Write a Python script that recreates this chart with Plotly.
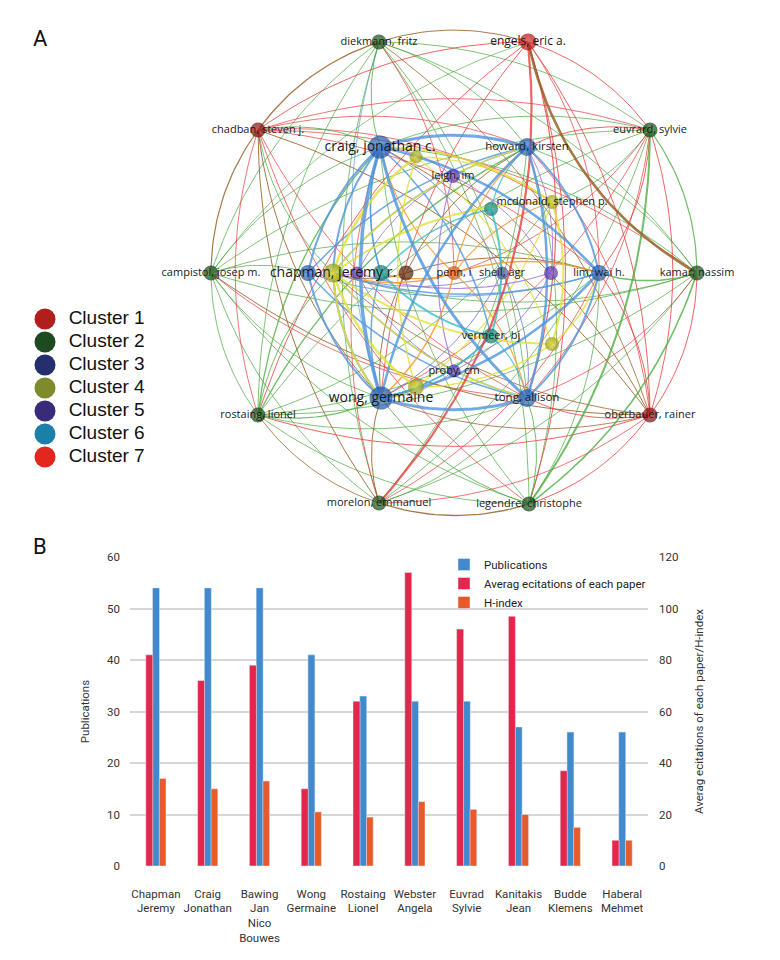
import math
from collections import defaultdict
import plotly.graph_objects as go

# ---------------- Panel B data ----------------
authors = ["Chapman<br>Jeremy", "Craig<br>Jonathan", "Bawing<br>Jan<br>Nico<br>Bouwes",
           "Wong<br>Germaine", "Rostaing<br>Lionel", "Webster<br>Angela", "Euvrad<br>Sylvie",
           "Kanitakis<br>Jean", "Budde<br>Klemens", "Haberal<br>Mehmet"]
publications = [54, 54, 54, 41, 33, 32, 32, 27, 26, 26]
avg_citations = [82, 72, 78, 30, 64, 114, 92, 97, 37, 10]
h_index = [34, 30, 33, 21, 19, 25, 22, 20, 15, 10]

# ---------------- Panel A data ----------------
node_names = ["diekmann, fritz", "engels, eric a.", "euvrard, sylvie", "kamar, nassim",
              "oberbauer, rainer", "legendre, christophe", "morelon, emmanuel", "rostaing, lionel",
              "campistol, josep m.", "chadban, steven j.", "craig, jonathan c.", "howard, kirsten",
              "lim, wai h.", "tong, allison", "wong, germaine", "", "", "mcdonald, stephen p.",
              "", "", "chapman, jeremy r.", "leigh, im", "", "proby, cm", "", "", "vermeer, bj",
              "", "", "sheil, agr", "penn, i"]
node_x = [-75, 74, 196, 243, 196, 75, -75, -196, -243, -196, -74, 73, 145, 73, -73, -146,
          -38, 98, 98, -38, -121, -1, 97, 0, -97, 37, 37, -73, -48, 48, 0]
node_y = [231, 231, 143, 0, -142, -231, -230, -142, 0, 143, 126, 126, 0, -125, -125, 0,
          116, 71, -71, -114, 0, 97, 0, -98, 0, 64, -63, 0, 0, 0, 0]
node_group = ["g", "r7", "g", "g", "r1", "g", "g", "g", "g", "r1", "b", "b", "b", "b", "b", "b",
              "y", "y", "y", "y", "y", "p", "p", "p", "p", "t", "t", "t", "br", "s", "o"]
node_size = [15, 17, 15, 15, 15, 15, 15, 15, 15, 15, 23, 18, 16, 18, 23, 16,
             13, 14, 14, 16, 19, 14, 14, 13, 13, 14, 15, 16, 15, 13, 14]
label_size = [11, 12, 11, 11, 11, 11, 11, 11, 11, 11, 14, 11.5, 11, 11.5, 14, 11,
              11, 11, 11, 11, 14, 11, 11, 11, 11, 11, 11, 11, 11, 11, 11]

# edges: (node a, node b, strength, colour group)
edges = [
    (0, 2, 0.9, "g"), (0, 3, 0.9, "g"), (0, 5, 0.9, "g"), (0, 6, 0.9, "g"), (0, 7, 0.9, "g"),
    (0, 8, 0.9, "g"), (2, 3, 1.2, "g"), (2, 5, 2.0, "g"), (2, 6, 0.9, "g"), (2, 7, 0.9, "g"),
    (2, 8, 0.9, "g"), (3, 5, 1.6, "g"), (3, 6, 0.9, "g"), (3, 7, 0.9, "g"), (3, 8, 0.9, "g"),
    (5, 6, 1.3, "br"), (5, 7, 0.9, "g"), (5, 8, 0.9, "g"), (6, 7, 0.9, "br"), (6, 8, 0.9, "g"),
    (7, 8, 0.9, "g"),
    (0, 1, 1.0, "br"), (1, 2, 1.0, "r"), (1, 3, 2.6, "br"), (1, 4, 1.0, "r"), (1, 5, 1.0, "r"),
    (1, 6, 2.2, "r"), (1, 7, 1.0, "r"), (1, 8, 0.8, "g"), (1, 9, 1.0, "r"),
    (9, 0, 1.3, "br"), (9, 2, 0.9, "r"), (9, 3, 0.9, "r"), (9, 4, 1.0, "br"), (9, 5, 0.9, "r"),
    (9, 6, 1.0, "br"), (9, 7, 0.9, "r"), (9, 8, 1.2, "br"),
    (4, 0, 0.9, "br"), (4, 2, 1.0, "r"), (4, 3, 1.0, "r"), (4, 5, 1.0, "r"), (4, 6, 0.9, "r"),
    (4, 7, 1.0, "r"), (4, 8, 1.0, "br"),
    # outer -> inner
    (0, 10, 1.0, "g"), (0, 11, 0.9, "g"), (0, 13, 0.9, "g"), (0, 14, 0.8, "b"), (0, 30, 0.9, "r"),
    (1, 13, 1.2, "r"), (1, 14, 1.0, "r"), (1, 12, 0.9, "r"),
    (2, 11, 1.0, "r"), (2, 12, 1.0, "r"), (2, 10, 0.9, "g"), (2, 17, 0.9, "g"), (2, 13, 0.9, "r"),
    (2, 30, 0.9, "r"), (2, 14, 0.9, "r"),
    (3, 12, 1.5, "g"), (3, 20, 0.9, "g"), (3, 13, 0.9, "r"), (3, 10, 0.9, "g"), (3, 11, 0.9, "g"),
    (4, 13, 1.0, "r"), (4, 12, 1.0, "r"), (4, 14, 0.9, "br"), (4, 20, 0.9, "br"), (4, 11, 0.9, "r"),
    (4, 10, 1.0, "br"),
    (5, 13, 1.0, "g"), (5, 14, 1.0, "g"), (5, 12, 0.9, "g"), (5, 10, 0.9, "g"), (5, 11, 0.9, "g"),
    (6, 14, 1.0, "br"), (6, 13, 0.9, "g"), (6, 12, 0.9, "r"), (6, 11, 0.9, "g"), (6, 10, 0.9, "r"),
    (7, 14, 1.2, "g"), (7, 10, 1.3, "g"), (7, 20, 1.0, "g"), (7, 11, 1.3, "g"), (7, 12, 0.9, "g"),
    (7, 13, 0.9, "g"), (7, 17, 0.9, "g"),
    (8, 10, 0.9, "g"), (8, 15, 0.9, "g"), (8, 14, 0.9, "g"), (8, 13, 0.9, "r"), (8, 12, 0.9, "g"),
    (9, 10, 1.0, "g"), (9, 11, 0.9, "r"), (9, 17, 0.9, "r"), (9, 14, 1.0, "br"), (9, 13, 0.9, "r"),
    (9, 12, 0.9, "r"), (9, 20, 0.9, "g"),
    # blue cluster
    (10, 14, 3.5, "b"), (10, 11, 3.0, "b"), (10, 13, 3.0, "b"), (10, 12, 2.5, "b"), (10, 15, 2.0, "b"),
    (11, 14, 2.5, "b"), (11, 13, 2.5, "b"), (11, 12, 2.0, "b"), (11, 15, 1.5, "b"), (14, 13, 3.0, "b"),
    (14, 12, 2.5, "b"), (14, 15, 2.0, "b"), (13, 12, 2.0, "b"), (13, 15, 1.5, "b"), (12, 15, 1.0, "b"),
    (10, 20, 2.0, "b"), (14, 20, 2.0, "b"), (10, 26, 1.5, "b"), (14, 26, 1.5, "b"), (11, 20, 1.5, "b"),
    (13, 20, 1.5, "b"), (12, 20, 1.5, "b"), (10, 27, 1.5, "b"), (14, 27, 1.5, "b"),
    # yellow cluster
    (20, 16, 2.5, "y"), (20, 19, 2.5, "y"), (20, 17, 2.0, "y"), (20, 18, 2.0, "y"), (16, 17, 1.5, "y"),
    (17, 18, 2.0, "y"), (18, 19, 1.5, "y"), (16, 19, 1.5, "y"), (17, 19, 1.2, "y"), (16, 18, 1.2, "y"),
    (20, 14, 2.0, "y"), (20, 11, 1.5, "y"), (20, 13, 1.5, "y"), (17, 10, 1.5, "y"), (18, 12, 1.5, "y"),
    (19, 14, 2.0, "y"),
    # purple cluster
    (21, 23, 1.2, "p"), (22, 24, 1.2, "p"), (21, 24, 1.0, "p"), (22, 23, 1.0, "p"), (21, 22, 1.0, "p"),
    (23, 24, 1.0, "p"), (24, 20, 1.0, "p"), (21, 10, 1.0, "p"), (23, 14, 1.0, "p"), (22, 11, 1.0, "p"),
    # teal cluster
    (25, 26, 2.0, "t"), (26, 27, 2.0, "t"), (25, 27, 1.5, "t"), (27, 10, 1.2, "t"), (26, 13, 1.2, "t"),
    (25, 11, 1.2, "t"), (26, 14, 1.5, "t"),
    # orange / brown / slate
    (30, 20, 1.5, "o"), (30, 13, 1.2, "o"), (30, 10, 1.2, "o"), (30, 12, 1.5, "o"), (30, 14, 1.5, "o"),
    (30, 11, 1.2, "o"), (30, 17, 1.2, "o"), (30, 27, 1.2, "o"),
    (28, 20, 1.0, "br"), (28, 12, 1.0, "br"), (28, 14, 1.0, "br"), (28, 11, 1.0, "br"),
    (29, 10, 1.0, "s"), (29, 14, 1.0, "s"), (29, 13, 1.0, "s"), (29, 20, 1.0, "s"),
]
# edges whose curve bends towards the centre instead of outwards
inward_edges = [(1, 3), (1, 6)]

clusters = ["Cluster 1", "Cluster 2", "Cluster 3", "Cluster 4", "Cluster 5", "Cluster 6", "Cluster 7"]
cluster_colors = ["#B01E1E", "#1E4A22", "#262F6E", "#7F8A2C", "#3A2B7A", "#1B80A8", "#E3261E"]

# ---------------- styles ----------------
COND = "Roboto, Liberation Sans, sans-serif"
NODE_RIM = {"g": "#0c3812", "r7": "#a80f0f", "r1": "#6a0a0a", "b": "#1d4f9e", "y": "#8f9412",
            "p": "#4a2b9a", "t": "#0b6e66", "br": "#3e1406", "s": "#3f4a8c", "o": "#c24d10"}
NODE_CORE = {"g": "#2c7d2c", "r7": "#e63030", "r1": "#b81c1c", "b": "#3d80d6", "y": "#d8da3c",
             "p": "#7f58d0", "t": "#25ae9c", "br": "#7c3416", "s": "#6672b4", "o": "#f27c30"}
EDGE_COL = {"g": "rgba(78,172,66,0.8)", "r": "rgba(232,58,58,0.78)", "br": "rgba(150,98,40,0.85)",
            "b": "rgba(80,150,222,0.82)", "y": "rgba(226,226,58,0.82)", "p": "rgba(160,110,212,0.8)",
            "t": "rgba(58,190,200,0.82)", "o": "rgba(246,150,48,0.82)", "s": "rgba(110,120,192,0.8)"}

OFF = 8  # page margin of the browser


def xp(p):
    return (p - OFF) / 780


def yp(p):
    return (960 - (p - OFF)) / 960


fig = go.Figure()

# ---------------- network edges ----------------
groups = defaultdict(lambda: ([], []))
for a, b, w, c in edges:
    x0, y0, x2, y2 = node_x[a], node_y[a], node_x[b], node_y[b]
    mx, my = (x0 + x2) / 2, (y0 + y2) / 2
    dx, dy = x2 - x0, y2 - y0
    L = math.hypot(dx, dy)
    nx, ny = -dy / L, dx / L
    if mx * nx + my * ny < 0:
        nx, ny = -nx, -ny
    k = 0.16
    if (a, b) in inward_edges:
        nx, ny, k = -nx, -ny, 0.22
    cx, cy = mx + k * L * nx, my + k * L * ny
    xs, ys = groups[(c, w)]
    for i in range(25):
        t = i / 24
        xs.append((1 - t) ** 2 * x0 + 2 * (1 - t) * t * cx + t * t * x2)
        ys.append((1 - t) ** 2 * y0 + 2 * (1 - t) * t * cy + t * t * y2)
    xs.append(None)
    ys.append(None)

for (c, w) in sorted(groups, key=lambda k: k[1]):
    xs, ys = groups[(c, w)]
    fig.add_trace(go.Scatter(x=xs, y=ys, mode="lines", xaxis="x3", yaxis="y3",
                             line=dict(color=EDGE_COL[c], width=w), hoverinfo="skip",
                             showlegend=False))

# ---------------- network nodes ----------------
fig.add_trace(go.Scatter(
    x=node_x, y=node_y, mode="markers", xaxis="x3", yaxis="y3", showlegend=False,
    marker=dict(size=node_size, color=[NODE_RIM[g] for g in node_group],
                gradient=dict(type="radial", color=[NODE_CORE[g] for g in node_group]),
                line=dict(width=0)),
    hovertext=node_names, hoverinfo="text"))
fig.add_trace(go.Scatter(
    x=node_x, y=node_y, mode="text", text=node_names, xaxis="x3", yaxis="y3",
    textposition="middle center", showlegend=False, hoverinfo="skip",
    textfont=dict(family="Open Sans, Noto Sans, sans-serif", size=label_size, color="#1a1a1a")))

# ---------------- cluster legend (own small axes) ----------------
fig.add_trace(go.Scatter(
    x=[0] * len(clusters), y=clusters, mode="markers+text",
    text=["\u2002" + c for c in clusters],
    textposition="middle right", xaxis="x4", yaxis="y4", showlegend=False, cliponaxis=False,
    marker=dict(size=21, color=cluster_colors),
    textfont=dict(family="Liberation Sans, Arial, sans-serif", size=19, color="#111111"),
    hoverinfo="skip"))

# ---------------- bar chart ----------------
fig.add_trace(go.Bar(x=authors, y=publications, name="Publications", marker_color="#4189CB",
                     width=0.135, offset=-0.065, xaxis="x", yaxis="y", legend="legend"))
fig.add_trace(go.Bar(x=authors, y=avg_citations, name="Averag ecitations of each paper",
                     marker_color="#E2264C", width=0.135, offset=-0.195, xaxis="x", yaxis="y2",
                     legend="legend"))
fig.add_trace(go.Bar(x=authors, y=h_index, name="H-index", marker_color="#E65A2C",
                     width=0.13, offset=0.065, xaxis="x", yaxis="y2", legend="legend"))

tickfont = dict(family=COND, size=11.5, color="#333333")
fig.update_layout(
    width=780, height=960, margin=dict(l=0, r=0, t=0, b=0, autoexpand=False),
    paper_bgcolor="white", plot_bgcolor="rgba(0,0,0,0)", barmode="overlay",
    xaxis=dict(domain=[xp(130), xp(648)], anchor="y", type="category", showgrid=False,
               showline=False, zeroline=False, ticks="", tickfont=tickfont, ticklabelstandoff=19,
               tickangle=0, fixedrange=True),
    yaxis=dict(domain=[yp(866), yp(557)], anchor="x", range=[0, 60], dtick=10,
               gridcolor="#d6d6d6", gridwidth=1.5, zeroline=False, showline=False, ticks="",
               tickfont=tickfont, ticklabelstandoff=9,
               title=dict(text="Publications", font=dict(family=COND, size=11.5, color="#333333"),
                          standoff=15)),
    yaxis2=dict(overlaying="y", side="right", anchor="x", range=[0, 120], dtick=20,
                showgrid=False, zeroline=False, showline=False, ticks="", tickfont=tickfont,
                ticklabelstandoff=10,
                title=dict(text="Averag ecitations of each paper/H-index",
                           font=dict(family=COND, size=11.5, color="#333333"), standoff=17)),
    xaxis3=dict(domain=[0, 1], anchor="y3", range=[-446, 334], visible=False, fixedrange=True),
    yaxis3=dict(domain=[430 / 960, 1], anchor="x3", range=[-265, 265], visible=False,
                fixedrange=True),
    xaxis4=dict(domain=[0, xp(82)], anchor="y4", range=[-1, 1], visible=False, fixedrange=True),
    yaxis4=dict(domain=[yp(468.5), yp(307.5)], anchor="x4", type="category",
                range=[6.5, -0.5], visible=False, fixedrange=True),
    legend=dict(x=xp(444), y=yp(550), xanchor="left", yanchor="top",
                bgcolor="rgba(0,0,0,0)", font=dict(family=COND, size=11.5, color="#222222"),
                itemclick=False, itemdoubleclick=False),
    annotations=[
        dict(text="A", x=xp(40), y=yp(38), xref="paper", yref="paper", xanchor="center",
             yanchor="middle", showarrow=False, font=dict(family=COND, size=22, color="#111111")),
        dict(text="B", x=xp(40), y=yp(546), xref="paper", yref="paper", xanchor="center",
             yanchor="middle", showarrow=False, font=dict(family=COND, size=22, color="#111111")),
    ],
)

fig.write_html("out.html")
